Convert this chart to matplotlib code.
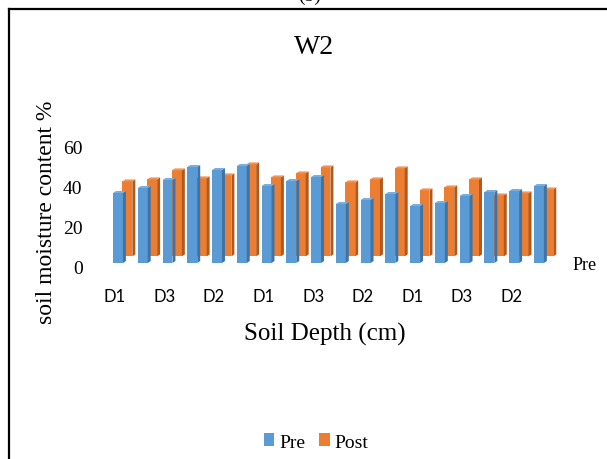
import matplotlib
matplotlib.use("Agg")
import matplotlib.pyplot as plt
from matplotlib.patches import Polygon, Patch
from matplotlib.lines import Line2D
from matplotlib.transforms import ScaledTranslation

# Soil moisture content (%) at each sampling point, before and after
depths = ["D1", "D2", "D3"] * 6
pre = [35, 37.5, 41.5, 48, 46.5, 48.5, 38.5, 41, 43, 29.5, 31.5, 34.5,
       28.5, 30, 33.5, 35.5, 36, 38.5]
post = [37.5, 38.5, 43, 39, 40.5, 46, 39.5, 41.5, 44.5, 37, 38.5, 44,
        33, 34.5, 38.5, 30.5, 31.5, 33.5]
yticks = [0, 20, 40, 60]

W, H = 607, 460
fig = plt.figure(figsize=(W / 100, H / 100), dpi=100)
serif = "Liberation Serif"

# plot area in pixels
left_px, right_px, top_px, bot_px = 95, 565, 140, 275
ax = fig.add_axes([left_px / W, 1 - bot_px / H,
                   (right_px - left_px) / W, (bot_px - top_px) / H])
px_per_cat = 24.76
px_per_unit = 2.0
first_px = 118
ax.set_xlim(-(first_px - left_px) / px_per_cat, (right_px - first_px) / px_per_cat)
ax.set_ylim(-(bot_px - 264) / px_per_unit, (264 - top_px) / px_per_unit)

# pseudo-3D geometry (data units)
bw = 0.40                  # front face width
sdx, sdy = 0.12, 1.0       # side / top depth of each column
ser_dx, ser_dy = 0.38, 3.3  # shift of the back series

blue, blue_side, blue_top = "#5B9BD5", "#3F73A3", "#7AAEDD"
orng, orng_side, orng_top = "#ED7D31", "#B0591F", "#F29456"


def draw_series(vals, x0, y0, face, side, top, z):
    xs = [i + x0 for i in range(len(vals))]
    ax.bar(xs, vals, width=bw, bottom=y0, color=face, linewidth=0, zorder=z)
    for x, v in zip(xs, vals):
        xl, xr = x - bw / 2, x + bw / 2
        yb, yt = y0, y0 + v
        ax.add_patch(Polygon([(xr, yb), (xr + sdx, yb + sdy), (xr + sdx, yt + sdy),
                              (xr, yt)], closed=True, facecolor=side,
                             linewidth=0, zorder=z))
        ax.add_patch(Polygon([(xl, yt), (xl + sdx, yt + sdy), (xr + sdx, yt + sdy),
                              (xr, yt)], closed=True, facecolor=top,
                             linewidth=0, zorder=z))


draw_series(post, ser_dx, ser_dy, orng, orng_side, orng_top, 2)
draw_series(pre, 0, 0, blue, blue_side, blue_top, 3)

for s in ax.spines.values():
    s.set_visible(False)
ax.set_facecolor("none")

ax.set_yticks(yticks)
ax.set_yticklabels([str(t) for t in yticks], fontfamily=serif, fontsize=14)
ax.tick_params(axis="y", length=0, pad=9)
for lab in ax.get_yticklabels():
    lab.set_transform(lab.get_transform() + ScaledTranslation(0, -3.5 / 100, fig.dpi_scale_trans))

xt = list(range(0, len(depths), 2))
ax.set_xticks(xt)
ax.set_xticklabels([depths[i] for i in xt], fontfamily="Lato", fontsize=12)
ax.tick_params(axis="x", length=0, pad=10)
for lab in ax.get_xticklabels():
    lab.set_transform(lab.get_transform() + ScaledTranslation(-3 / 100, 0, fig.dpi_scale_trans))

# titles and axis names
fig.text(314 / W, 1 - 48 / H, "W2", fontfamily=serif, fontsize=20,
         ha="center", va="center")
fig.text(47 / W, 1 - 212 / H, "soil moisture content %", fontfamily=serif,
         fontsize=17, rotation=90, ha="center", va="center")
fig.text(325 / W, 1 - 334 / H, "Soil Depth (cm)", fontfamily=serif,
         fontsize=18, ha="center", va="center")
fig.text(573 / W, 1 - 265 / H, "Pre", fontfamily=serif, fontsize=13,
         ha="left", va="center")
fig.text(310 / W, 1 - 1 / H, "(b)", fontfamily=serif, fontsize=14,
         ha="center", va="baseline")

# legend
handles = [Patch(facecolor=blue, label="Pre"), Patch(facecolor=orng, label="Post")]
fig.legend(handles=handles, loc="center", bbox_to_anchor=(316 / W, 1 - 443 / H),
           ncol=2, frameon=False, handlelength=0.55, handleheight=0.6,
           handletextpad=0.25, columnspacing=0.7,
           prop={"family": serif, "size": 14})

# frame around the chart
fig.add_artist(Line2D([9 / W, 9 / W], [0, 1 - 10 / H], color="black", lw=1.6,
                      transform=fig.transFigure))
fig.add_artist(Line2D([9 / W, 1], [1 - 10 / H, 1 - 10 / H], color="black", lw=1.6,
                      transform=fig.transFigure))

fig.savefig("out.png", dpi=100)
